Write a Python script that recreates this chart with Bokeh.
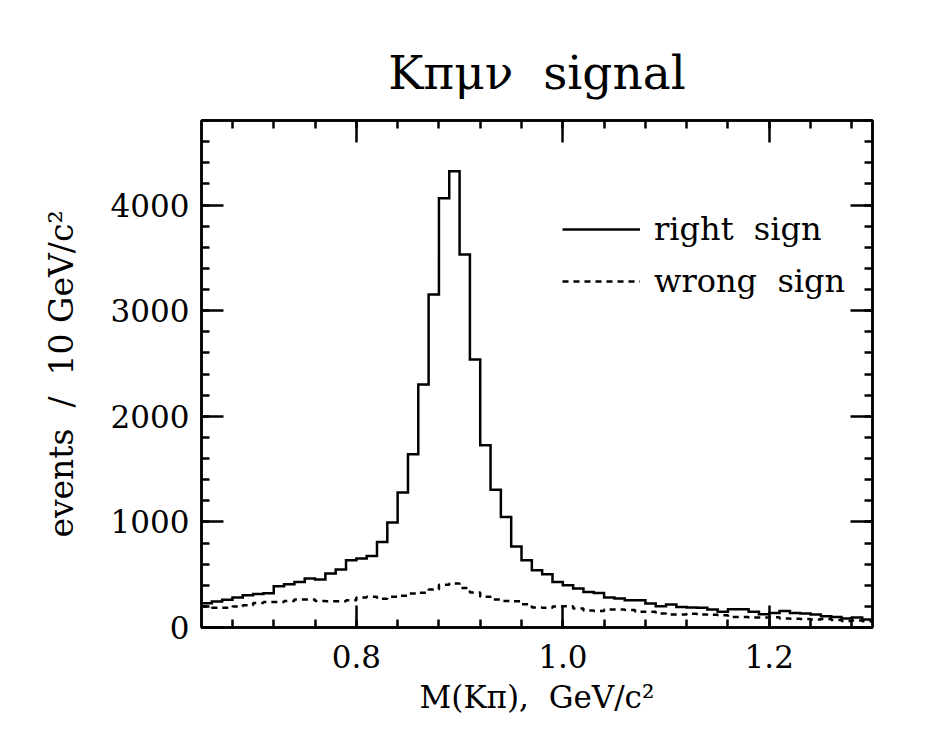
from bokeh.plotting import figure
from bokeh.models import (LinearAxis, SingleIntervalTicker, Range1d, Legend, LegendItem,
                          PrintfTickFormatter, CustomLabelingPolicy)
from bokeh.embed import file_html
from bokeh.resources import INLINE

# ---- data ----
BIN_LO = 0.65
BIN_W = 0.01
right_sign = [230, 245, 262, 284, 305, 318, 325, 391, 410, 431,
              463, 454, 511, 549, 637, 653, 677, 810, 995, 1277,
              1640, 2300, 3153, 4064, 4320, 3532, 2538, 1726, 1305, 1046,
              766, 637, 542, 504, 431, 400, 369, 337, 327, 285,
              275, 258, 258, 227, 202, 218, 195, 190, 186, 170,
              148, 173, 173, 148, 126, 138, 157, 138, 132, 123,
              107, 100, 85, 95, 76]
wrong_sign = [198, 188, 186, 200, 211, 233, 242, 242, 252, 265,
              265, 250, 249, 249, 258, 285, 290, 272, 290, 300,
              321, 330, 359, 405, 416, 375, 331, 292, 265, 252,
              248, 220, 190, 186, 200, 202, 180, 160, 157, 170,
              170, 165, 150, 148, 132, 123, 123, 130, 123, 120,
              115, 100, 100, 95, 95, 97, 85, 82, 80, 76,
              80, 70, 62, 66, 60]
x_ticks_interval = 0.2
y_ticks_interval = 1000
NB = "\u00a0"
title_text = "Kπμν" + NB * 2 + "signal"
x_label = "M(Kπ)," + NB * 2 + "GeV/c²"
y_label = "events" + NB * 2 + "/" + NB * 2 + "10" + NB + "GeV/c²"
legend_labels = ["right" + NB * 2 + "sign", "wrong" + NB * 2 + "sign"]

edges = [round(BIN_LO + BIN_W * i, 4) for i in range(len(right_sign) + 1)]
rs_y = right_sign + [right_sign[-1]]
ws_y = wrong_sign + [wrong_sign[-1]]

FONT = "DejaVu Serif"

p = figure(width=930, height=730, output_backend="svg", toolbar_location=None,
           x_range=Range1d(0.65, 1.30), y_range=Range1d(0, 4800),
           min_border_left=201, min_border_right=58,
           min_border_top=120, min_border_bottom=103)

p.xgrid.visible = False
p.ygrid.visible = False
p.outline_line_color = "black"
p.outline_line_width = 2.5

no_labels = CustomLabelingPolicy(code="""
    const C = indices.constructor;
    return new C(indices.size, 0);
""")

def style_axis(ax, labels=True):
    ax.axis_line_width = 2.5
    ax.axis_line_color = "black"
    ax.major_tick_in = 22
    ax.major_tick_out = 0
    ax.minor_tick_in = 8
    ax.minor_tick_out = 0
    ax.major_tick_line_width = 2.5
    ax.minor_tick_line_width = 2.5
    ax.major_tick_line_color = "black"
    ax.minor_tick_line_color = "black"
    ax.major_label_text_font = FONT
    ax.major_label_text_font_size = "31px"
    ax.major_label_text_color = "black"
    ax.axis_label_text_font = FONT
    ax.axis_label_text_font_style = "normal"
    ax.axis_label_text_font_size = "31px"
    ax.axis_label_text_color = "black"
    if not labels:
        ax.major_label_policy = no_labels
        ax.major_label_standoff = 0
        ax.major_label_text_font_size = "1px"

p.xaxis.ticker = SingleIntervalTicker(interval=x_ticks_interval, num_minor_ticks=5)
p.yaxis.ticker = SingleIntervalTicker(interval=y_ticks_interval, num_minor_ticks=5)
style_axis(p.xaxis[0])
style_axis(p.yaxis[0])
p.xaxis.formatter = PrintfTickFormatter(format="%.1f")
p.yaxis.formatter = PrintfTickFormatter(format="%d")
p.xaxis.axis_label = x_label
p.yaxis.axis_label = y_label
p.yaxis.axis_label_text_font_size = "33px"
p.xaxis.major_label_standoff = 17
p.yaxis.major_label_standoff = 12
p.xaxis.axis_label_standoff = 8
p.yaxis.axis_label_standoff = 27

top_ax = LinearAxis(ticker=SingleIntervalTicker(interval=x_ticks_interval, num_minor_ticks=5))
style_axis(top_ax, labels=False)
p.add_layout(top_ax, "above")
right_ax = LinearAxis(ticker=SingleIntervalTicker(interval=y_ticks_interval, num_minor_ticks=5))
style_axis(right_ax, labels=False)
p.add_layout(right_ax, "right")

r1 = p.step(x=edges, y=rs_y, mode="after", line_width=2.5, line_color="black",
            line_join="miter")
r2 = p.step(x=edges, y=ws_y, mode="after", line_width=2.5, line_color="black",
            line_dash="6 5")

legend = Legend(items=[LegendItem(label=legend_labels[0], renderers=[r1]),
                       LegendItem(label=legend_labels[1], renderers=[r2])],
                location=(361, 326), glyph_width=78, glyph_height=40,
                label_height=40, label_standoff=14, spacing=12,
                padding=0, margin=0, border_line_color=None,
                background_fill_alpha=0,
                label_text_font=FONT, label_text_font_size="32px",
                label_text_color="black")
p.add_layout(legend)

p.title.text = title_text
p.title.align = "center"
p.title.text_font = FONT
p.title.text_font_style = "normal"
p.title.text_font_size = "47px"
p.title.text_color = "black"
p.title.standoff = 34

open("out.html", "w").write(file_html(p, INLINE))
